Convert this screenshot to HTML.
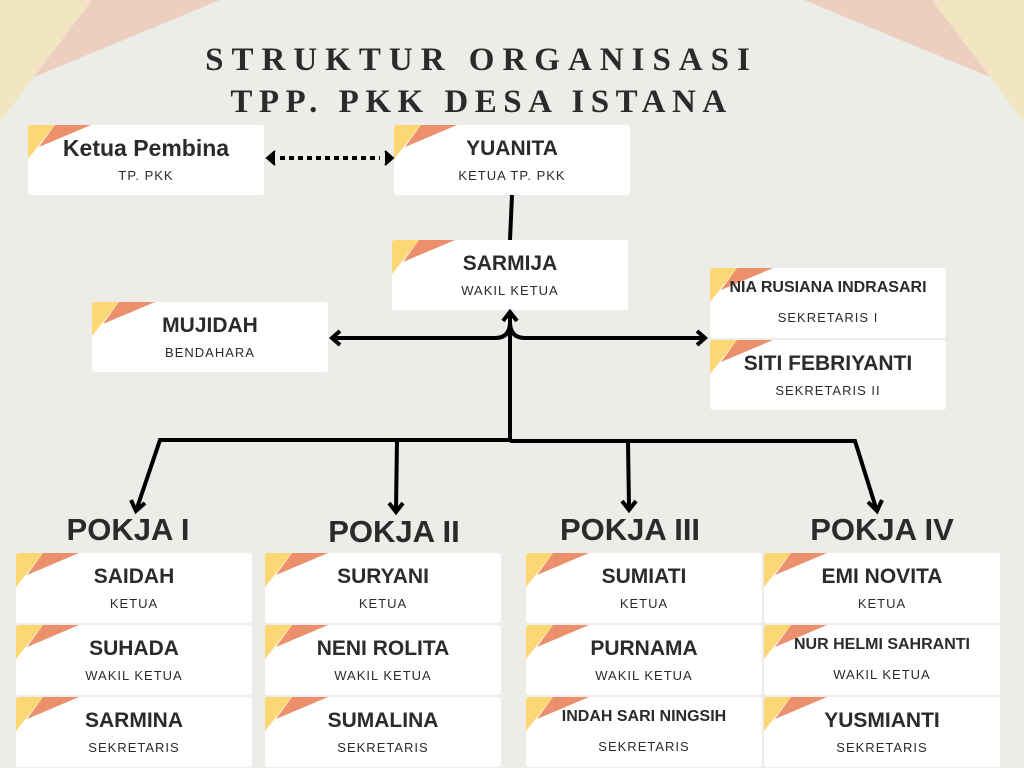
<!DOCTYPE html>
<html><head><meta charset="utf-8"><style>
body{margin:0;width:1024px;height:768px;background:#ecede8;position:relative;overflow:hidden;font-family:"Liberation Sans",sans-serif;color:#2b2b2b}
.card{position:absolute;width:236px;height:70px;background:#fff;border-radius:3px;text-align:center;overflow:hidden}
.card svg{position:absolute;left:0;top:0}
.n{position:absolute;left:0;right:0;top:12px;font-weight:bold;font-size:21px}
.r{position:absolute;left:0;right:0;top:43px;font-size:13px;letter-spacing:1px}
.t{position:absolute;font-weight:bold;font-size:31px;text-align:center;width:240px}
.h{position:absolute;left:0;width:963px;text-align:center;font-family:"Liberation Serif",serif;font-weight:bold;font-size:33px;letter-spacing:8px}
</style></head><body>
<svg width="1024" height="768" style="position:absolute;left:0;top:0">
<polygon points="0,0 92,0 0,122" fill="#f2e6c2"/>
<polygon points="92,0 220,0 34,77" fill="#edcfc0"/>
<polygon points="1024,0 932,0 1024,122" fill="#f2e6c2"/>
<polygon points="932,0 804,0 990,77" fill="#edcfc0"/>
</svg>
<div class="h" style="top:42px">STRUKTUR ORGANISASI</div>
<div class="h" style="top:84px;letter-spacing:6.5px">TPP. PKK DESA ISTANA</div>

<svg width="1024" height="768" style="position:absolute;left:0;top:0;z-index:2" fill="none" stroke="#000" stroke-width="4">
<line x1="280" y1="158" x2="380" y2="158" stroke-dasharray="5,4"/>
<polyline points="275,151 267,158 275,165" fill="#000" stroke-width="2"/>
<polyline points="385,151 393,158 385,165" fill="#000" stroke-width="2"/>
<line x1="512" y1="195" x2="510" y2="240"/>
<line x1="510" y1="312" x2="510" y2="440"/>
<polyline points="503,321 510,312 517,321"/>
<path d="M510,322 Q510,338 495,338 L332,338"/>
<polyline points="340,331 332,338 340,345"/>
<path d="M510,322 Q510,338 525,338 L705,338"/>
<polyline points="697,331 705,338 697,345"/>
<polyline points="510,440 160,440 137,508"/>
<polyline points="510,441 855,441 876,508"/>
<line x1="397" y1="440" x2="396" y2="510"/>
<line x1="628" y1="441" x2="629" y2="508"/>
<polyline points="131,500 136,511 145,503"/>
<polyline points="389,503 396,512 403,503"/>
<polyline points="622,501 629,510 636,501"/>
<polyline points="868,502 877,511 882,500"/>
</svg>

<div id="cards"></div>
<div class="t" style="left:8px;top:512px">POKJA I</div>
<div class="t" style="left:274px;top:514px">POKJA II</div>
<div class="t" style="left:510px;top:512px">POKJA III</div>
<div class="t" style="left:762px;top:512px">POKJA IV</div>
<script>
var deco='<svg width="70" height="40"><polygon points="0,0 27,0 0,34" fill="#fcd774"/><polygon points="27,0 63,0 11,22" fill="#ec8f6d"/></svg>';
var c=[[28,125,"Ketua Pembina","TP. PKK",1],[394,125,"YUANITA","KETUA TP. PKK"],[392,240,"SARMIJA","WAKIL KETUA"],[92,302,"MUJIDAH","BENDAHARA"],[710,268,"NIA RUSIANA INDRASARI","SEKRETARIS I",2],[710,340,"SITI FEBRIYANTI","SEKRETARIS II"],
[16,553,"SAIDAH","KETUA"],[16,625,"SUHADA","WAKIL KETUA"],[16,697,"SARMINA","SEKRETARIS"],
[265,553,"SURYANI","KETUA"],[265,625,"NENI ROLITA","WAKIL KETUA"],[265,697,"SUMALINA","SEKRETARIS"],
[526,553,"SUMIATI","KETUA"],[526,625,"PURNAMA","WAKIL KETUA"],[526,697,"INDAH SARI NINGSIH","SEKRETARIS",2],
[764,553,"EMI NOVITA","KETUA"],[764,625,"NUR HELMI SAHRANTI","WAKIL KETUA",2],[764,697,"YUSMIANTI","SEKRETARIS"]];
var h='';c.forEach(function(a){var ns=a[4]==2?'font-size:16px;top:11px':(a[4]==1?'font-size:23px;top:10px':'');var rs=a[4]==2?'top:42px':'';
h+='<div class="card" style="left:'+a[0]+'px;top:'+a[1]+'px">'+deco+'<div class="n" style="'+ns+'">'+a[2]+'</div><div class="r" style="'+rs+'">'+a[3]+'</div></div>';});
document.getElementById('cards').innerHTML=h;
</script>
</body></html>
